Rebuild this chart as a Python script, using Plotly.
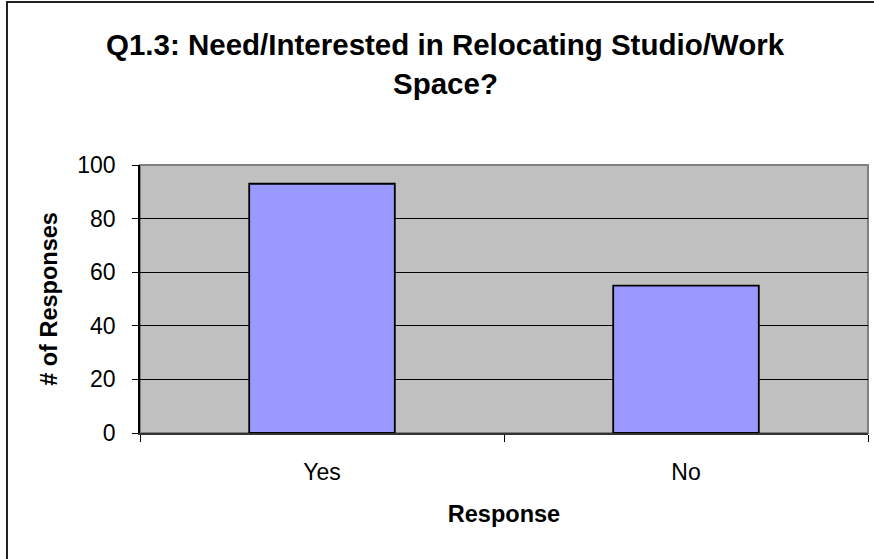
import plotly.graph_objects as go

categories = ["Yes", "No"]
responses = [93, 55]
y_ticks = [0, 20, 40, 60, 80, 100]
title_lines = ["Q1.3: Need/Interested in Relocating Studio/Work", "Space?"]
x_title = "Response"
y_title = "# of Responses"

W, H = 874, 559
L, R, T, B = 140, 6, 165, 126
pw, ph = W - L - R, H - T - B

def px_x(p):
    return (p - L) / pw

def px_y(p):
    return (H - B - p) / ph

FONT = "Liberation Sans, Arial, sans-serif"

fig = go.Figure(go.Bar(
    x=categories, y=responses,
    marker=dict(color="#9999FF", line=dict(color="black", width=1.8)),
    width=0.4,
))

fig.update_layout(
    width=W, height=H,
    margin=dict(l=L, r=R, t=T, b=B),
    paper_bgcolor="white",
    plot_bgcolor="#C0C0C0",
    showlegend=False,
    font=dict(family=FONT, color="black", size=23),
    xaxis=dict(
        tickson="boundaries", ticks="outside", ticklen=7, tickcolor="black",
        showline=True, linecolor="#333333", linewidth=2,
        showgrid=False, ticklabelstandoff=17,
        tickfont=dict(size=23),
        title=dict(text="<b>%s</b>" % x_title, standoff=22, font=dict(size=23.5)),
    ),
    yaxis=dict(
        range=[0, 100], tickvals=y_ticks, ticks="outside", ticklen=6, tickcolor="black",
        showline=True, linecolor="black", linewidth=1.5,
        showgrid=True, gridcolor="black", gridwidth=1, zeroline=False,
        ticklabelstandoff=12, tickfont=dict(size=23),
        title=dict(text="<b>%s</b>" % y_title, standoff=13, font=dict(size=23.5)),
    ),
    shapes=[
        dict(type="rect", xref="paper", yref="paper", x0=0, x1=1, y0=0, y1=1,
             line=dict(color="#808080", width=2), layer="below"),
        dict(type="rect", xref="paper", yref="paper",
             x0=px_x(7), x1=px_x(W + 10), y0=px_y(H + 10), y1=px_y(2),
             line=dict(color="#222222", width=2)),
    ],
    annotations=[
        dict(text="<b>%s</b>" % title_lines[0], xref="paper", yref="paper",
             x=px_x(445), y=px_y(44), xanchor="center", yanchor="middle",
             showarrow=False, font=dict(size=29.5)),
        dict(text="<b>%s</b>" % title_lines[1], xref="paper", yref="paper",
             x=px_x(445), y=px_y(84), xanchor="center", yanchor="middle",
             showarrow=False, font=dict(size=29.5)),
    ],
)

fig.write_html("out.html")
